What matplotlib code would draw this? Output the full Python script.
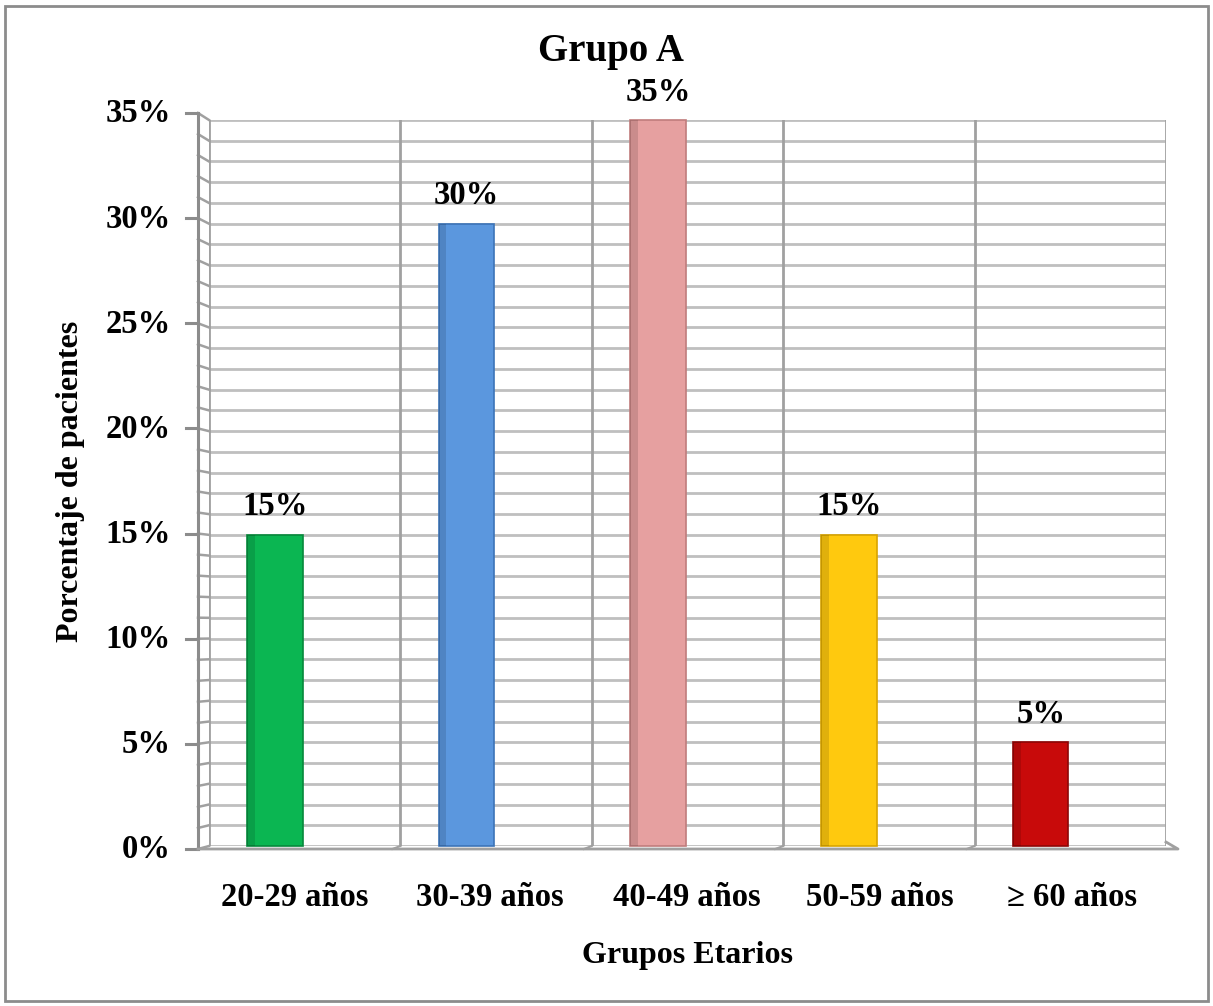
import matplotlib.pyplot as plt
from matplotlib.lines import Line2D
from matplotlib.patches import Rectangle

plt.rcParams['font.family'] = ['Liberation Serif', 'DejaVu Serif']
plt.rcParams['font.weight'] = 'bold'

# datos
grupos = ['20-29 años', '30-39 años', '40-49 años', '50-59 años', '≥ 60 años']
porcentajes = [15, 30, 35, 15, 5]
colores = ['#0BB652', '#5B97DE', '#E6A0A0', '#FFC90E', '#C80A0A']
bordes = ['#07893C', '#3C74B8', '#C07C7C', '#D9A400', '#8E0606']

W, H = 1213, 1006
fig = plt.figure(figsize=(W / 100, H / 100), dpi=100)

# back wall of the pseudo 3d chart (pixel box)
x0, x1 = 209, 1166
y_top, y_bot = 120, 846
ax = fig.add_axes([x0 / W, 1 - y_bot / H, (x1 - x0) / W, (y_bot - y_top) / H])
ax.set_xlim(0, 5)
ax.set_ylim(0, 35)

# gridlines
for v in range(0, 36):
    ax.axhline(v, color='#BFBFBF', lw=2, zorder=0)
for c in range(0, 6):
    ax.axvline(c, color='#A0A0A0', lw=2, zorder=0)

pos = [i + 0.345 for i in range(len(grupos))]
ax.bar(pos, porcentajes, width=0.29, color=colores, edgecolor=bordes,
       linewidth=1.2, zorder=3, clip_on=False)
# darker strip on the left side of each bar
ax.bar([p - 0.125 for p in pos], porcentajes, width=0.04, color='black',
       alpha=0.12, linewidth=0, zorder=4, clip_on=False)

for p, v in zip(pos, porcentajes):
    ax.text(p, v + 0.6, f'{v}%', ha='center', va='bottom', fontsize=23.5,
            fontweight='bold')

ax.set_xticks([])
ax.set_yticks([])
for s in ax.spines.values():
    s.set_visible(False)

# front axis, depth connectors and floor (figure pixels)
def fx(px):
    return px / W

def fy(py):
    return 1 - py / H

fy0, fy35 = 849, 113
for v in range(0, 36):
    yf = fy0 + (fy35 - fy0) * v / 35
    yb = y_bot + (y_top - y_bot) * v / 35
    fig.add_artist(Line2D([fx(198), fx(x0)], [fy(yf), fy(yb)],
                          color='#A0A0A0', lw=1.8))
fig.add_artist(Line2D([fx(198), fx(198)], [fy(fy0), fy(fy35)],
                      color='#8C8C8C', lw=2.2))
for v in range(0, 36, 5):
    yf = fy0 + (fy35 - fy0) * v / 35
    fig.add_artist(Line2D([fx(186), fx(198)], [fy(yf), fy(yf)],
                          color='#8C8C8C', lw=2.2))
    fig.text(fx(171), fy(yf + 1), f'{v}%', ha='right', va='center',
             fontsize=23.5, fontweight='bold')
# floor
fig.add_artist(Line2D([fx(198), fx(1178), fx(x1)], [fy(fy0), fy(fy0), fy(842)],
                      color='#A0A0A0', lw=2))
for c in range(1, 5):
    xb = x0 + (x1 - x0) * c / 5
    fig.add_artist(Line2D([fx(xb - 8), fx(xb)], [fy(fy0), fy(y_bot)],
                          color='#A0A0A0', lw=1.5))

# category labels
lab_x = [295, 490, 687, 880, 1072]
for lx, g in zip(lab_x, grupos):
    fig.text(fx(lx), fy(897), g, ha='center', va='center', fontsize=23.5,
             fontweight='bold')

fig.text(fx(611), fy(52), 'Grupo A', ha='center', va='center', fontsize=28,
         fontweight='bold')
fig.text(fx(688), fy(955), 'Grupos Etarios', ha='center', va='center',
         fontsize=23, fontweight='bold')
fig.text(fx(71), fy(481), 'Porcentaje de pacientes', ha='center',
         va='center', rotation=90, fontsize=23, fontweight='bold')

# outer frame
fig.add_artist(Rectangle((fx(5), fy(1001)), fx(1203), 995 / H, fill=False,
                         edgecolor='#8C8C8C', lw=2))

fig.savefig('out.png', dpi=100)
